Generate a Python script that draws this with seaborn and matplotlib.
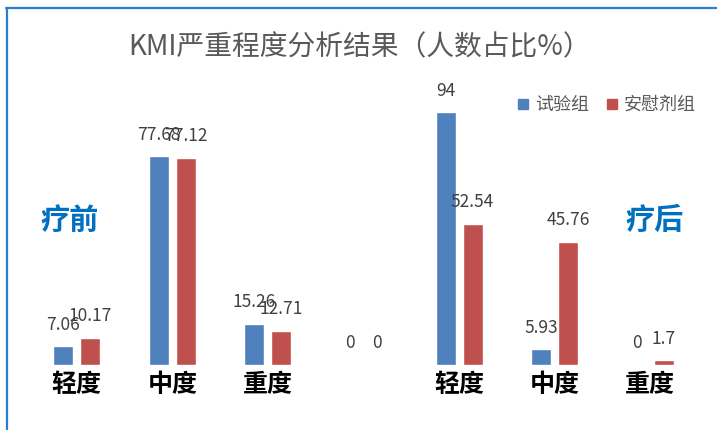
import matplotlib
matplotlib.use("Agg")
import matplotlib.pyplot as plt
import seaborn as sns
import pandas as pd
from matplotlib.lines import Line2D

# ---- data ----
keys = ["疗前轻度", "疗前中度", "疗前重度", "间隔", "疗后轻度", "疗后中度", "疗后重度"]
tick_labels = ["轻度", "中度", "重度", "", "轻度", "中度", "重度"]
groups = ["试验组", "安慰剂组"]
trial = [7.06, 77.68, 15.26, 0, 94, 5.93, 0]
placebo = [10.17, 77.12, 12.71, 0, 52.54, 45.76, 1.7]
title = "KMI严重程度分析结果（人数占比%）"
phase_labels = ["疗前", "疗后"]

colors = ["#4F81BD", "#C0504D"]

df = pd.DataFrame({
    "key": keys * 2,
    "value": trial + placebo,
    "group": [groups[0]] * len(keys) + [groups[1]] * len(keys),
})

sns.set_style("white")
plt.rcParams["font.family"] = ["Noto Sans CJK SC", "DejaVu Sans"]

W, H = 717, 430
fig = plt.figure(figsize=(W / 100, H / 100), dpi=100)
ax = fig.add_axes([29 / W, (H - 365) / H, 669 / W, 269 / H])

sns.barplot(data=df, x="key", y="value", hue="group", order=keys,
            hue_order=groups, palette=colors, width=0.566, gap=0.26,
            saturation=1, ax=ax, legend=True)

ax.set_xlim(-0.5, len(keys) - 0.5)
ax.set_ylim(0, 100)
ax.set_xlabel("")
ax.set_ylabel("")
ax.set_yticks([])
ax.set_xticks(range(len(keys)))
ax.set_xticklabels(tick_labels, fontsize=18, fontweight="bold", color="black")
ax.tick_params(axis="x", length=0, pad=6)
for s in ax.spines.values():
    s.set_visible(False)

for cont in ax.containers:
    ax.bar_label(cont, fmt="{:g}", padding=9, fontsize=12.5, color="#404040")

ax.get_legend().remove()
handles = [Line2D([0], [0], marker="s", linestyle="", markersize=7.5,
                  markerfacecolor=c, markeredgecolor=c) for c in colors]
fig.legend(handles, groups, loc="center", bbox_to_anchor=(604 / W, 1 - 105 / H),
           ncol=2, frameon=False, fontsize=13, labelcolor="#595959",
           handletextpad=0.05, columnspacing=0.7, handlelength=1.2)

fig.text(360 / W, 1 - 47 / H, title, ha="center", va="center",
         fontsize=20, color="#595959")
fig.text(70 / W, 1 - 220 / H, phase_labels[0], ha="center", va="center",
         fontsize=21, fontweight="bold", color="#0070C0")
fig.text(655 / W, 1 - 220 / H, phase_labels[1], ha="center", va="center",
         fontsize=21, fontweight="bold", color="#0070C0")

# frame lines (top and left)
fig.add_artist(Line2D([6 / W, 1], [1 - 8 / H, 1 - 8 / H], color="#2A7DD1",
                      linewidth=1.6, transform=fig.transFigure))
fig.add_artist(Line2D([7 / W, 7 / W], [0, 1 - 8 / H], color="#2A7DD1",
                      linewidth=1.6, transform=fig.transFigure))

fig.savefig("out.png", dpi=100, facecolor="white")
